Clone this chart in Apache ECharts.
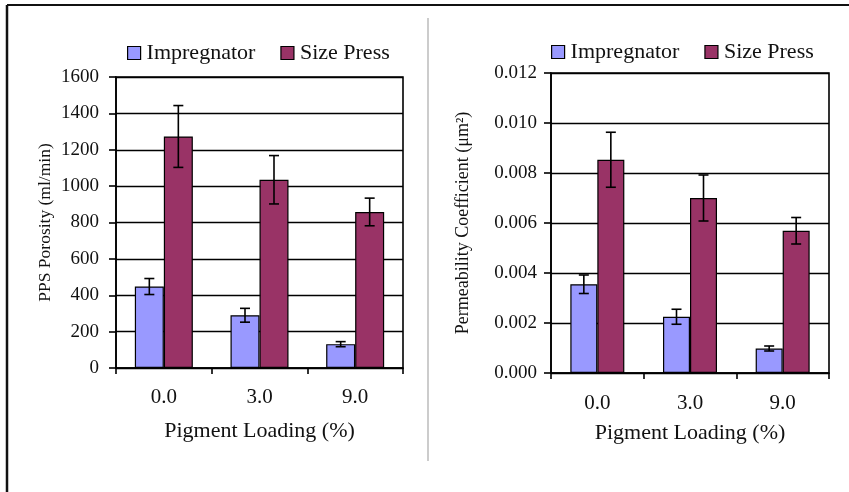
<!DOCTYPE html>
<html>
<head>
<meta charset="utf-8">
<script src="https://cdn.jsdelivr.net/npm/echarts@6/dist/echarts.min.js"></script>
<style>html,body{margin:0;padding:0;background:#fff}#c{width:849px;height:492px}</style>
</head>
<body>
<div id="c"></div>
<script>
var categories = ['0.0', '3.0', '9.0'];
var seriesNames = ['Impregnator', 'Size Press'];
var porosityImp = [448, 290, 131];
var porosityImpErr = [44, 38, 14];
var porositySP = [1273, 1035, 858];
var porositySPErr = [170, 133, 76];
var permImp = [0.00355, 0.00225, 0.00098];
var permImpErr = [0.00037, 0.00030, 0.00010];
var permSP = [0.00853, 0.00700, 0.00569];
var permSPErr = [0.00110, 0.00092, 0.00053];

var FONT = 'Liberation Serif';
var colImp = '#9999FF', colSP = '#993366';

function errData(vals, errs) {
  return vals.map(function (v, i) { return [i, v, errs[i]]; });
}
function errSeries(xi, yi, vals, errs, offset) {
  return {
    type: 'custom', xAxisIndex: xi, yAxisIndex: yi, silent: true, z: 5,
    data: errData(vals, errs),
    encode: { x: 0, y: 1 },
    renderItem: function (params, api) {
      var c = api.value(0), v = api.value(1), e = api.value(2);
      var top = api.coord([c, v + e]);
      var bot = api.coord([c, v - e]);
      var x = top[0] + offset;
      var hw = 5;
      var st = { stroke: '#000', lineWidth: 1.6 };
      return { type: 'group', children: [
        { type: 'line', shape: { x1: x, y1: top[1], x2: x, y2: bot[1] }, style: st },
        { type: 'line', shape: { x1: x - hw, y1: top[1], x2: x + hw, y2: top[1] }, style: st },
        { type: 'line', shape: { x1: x - hw, y1: bot[1], x2: x + hw, y2: bot[1] }, style: st }
      ]};
    }
  };
}
function xAxisCfg(gi, margin, nameGap) {
  return {
    type: 'category', gridIndex: gi, data: categories,
    boundaryGap: true,
    axisLine: { lineStyle: { color: '#000', width: 1.6 } },
    axisTick: { show: true, length: 6, lineStyle: { color: '#000', width: 1.6 } },
    axisLabel: { color: '#111', fontFamily: FONT, fontSize: 21, margin: margin },
    name: 'Pigment Loading (%)', nameLocation: 'middle', nameGap: nameGap,
    nameTextStyle: { color: '#111', fontFamily: FONT, fontSize: 22 }
  };
}
function yAxisCfg(gi, max, interval, name, nameGap, nameSize, margin, fmt) {
  return {
    type: 'value', gridIndex: gi, min: 0, max: max, interval: interval,
    axisLine: { show: true, lineStyle: { color: '#000', width: 1.6 } },
    axisTick: { show: true, length: 7, lineStyle: { color: '#000', width: 1.6 } },
    splitLine: { show: true, lineStyle: { color: '#000', width: 1.4 } },
    axisLabel: { color: '#111', fontFamily: FONT, fontSize: 19, margin: margin, formatter: fmt },
    name: name, nameLocation: 'middle', nameGap: nameGap,
    nameTextStyle: { color: '#111', fontFamily: FONT, fontSize: nameSize }
  };
}
function legendCfg(left, top) {
  return {
    left: left, top: top, selectedMode: false, itemWidth: 13, itemHeight: 13,
    itemGap: 25, icon: 'rect', data: seriesNames,
    itemStyle: { borderColor: '#000', borderWidth: 1.2 },
    textStyle: { color: '#111', fontFamily: FONT, fontSize: 22, padding: [0, 0, 0, 1] }
  };
}
var barStyle = function (c) { return { color: c, borderColor: '#000', borderWidth: 1.2 }; };

var option = {
  animation: false,
  backgroundColor: '#fff',
  legend: [legendCfg(122, 37), legendCfg(546, 36)],
  grid: [
    { left: 116, top: 77, width: 287, height: 291, show: true, borderColor: '#000', borderWidth: 1.6, backgroundColor: 'transparent' },
    { left: 551, top: 73, width: 278, height: 300, show: true, borderColor: '#000', borderWidth: 1.6, backgroundColor: 'transparent' }
  ],
  xAxis: [xAxisCfg(0, 19, 52), xAxisCfg(1, 20, 49)],
  yAxis: [
    yAxisCfg(0, 1600, 200, 'PPS Porosity (ml/min)', 62, 17.5, 17, function (v) { return String(v); }),
    yAxisCfg(1, 0.012, 0.002, 'Permeability Coefficient (\u03bcm\u00b2)', 79, 18, 14, function (v) { return v.toFixed(3); })
  ],
  series: [
    { name: seriesNames[0], type: 'bar', xAxisIndex: 0, yAxisIndex: 0, data: porosityImp, barWidth: 29, barGap: '0%', itemStyle: barStyle(colImp) },
    { name: seriesNames[1], type: 'bar', xAxisIndex: 0, yAxisIndex: 0, data: porositySP, barWidth: 29, barGap: '0%', itemStyle: barStyle(colSP) },
    { name: seriesNames[0], type: 'bar', xAxisIndex: 1, yAxisIndex: 1, data: permImp, barWidth: 27, barGap: '0%', itemStyle: barStyle(colImp) },
    { name: seriesNames[1], type: 'bar', xAxisIndex: 1, yAxisIndex: 1, data: permSP, barWidth: 27, barGap: '0%', itemStyle: barStyle(colSP) },
    errSeries(0, 0, porosityImp, porosityImpErr, -14.5),
    errSeries(0, 0, porositySP, porositySPErr, 14.5),
    errSeries(1, 1, permImp, permImpErr, -13.5),
    errSeries(1, 1, permSP, permSPErr, 13.5)
  ],
  graphic: [
    { type: 'line', shape: { x1: 7, y1: 5, x2: 849, y2: 5 }, style: { stroke: '#111', lineWidth: 2 } },
    { type: 'line', shape: { x1: 7, y1: 5, x2: 7, y2: 492 }, style: { stroke: '#111', lineWidth: 2.5 } },
    { type: 'line', shape: { x1: 428, y1: 18, x2: 428, y2: 461 }, style: { stroke: '#cccccc', lineWidth: 2 } }
  ]
};
var chart = echarts.init(document.getElementById('c'), null, { renderer: 'canvas' });
chart.setOption(option);
</script>
</body>
</html>
